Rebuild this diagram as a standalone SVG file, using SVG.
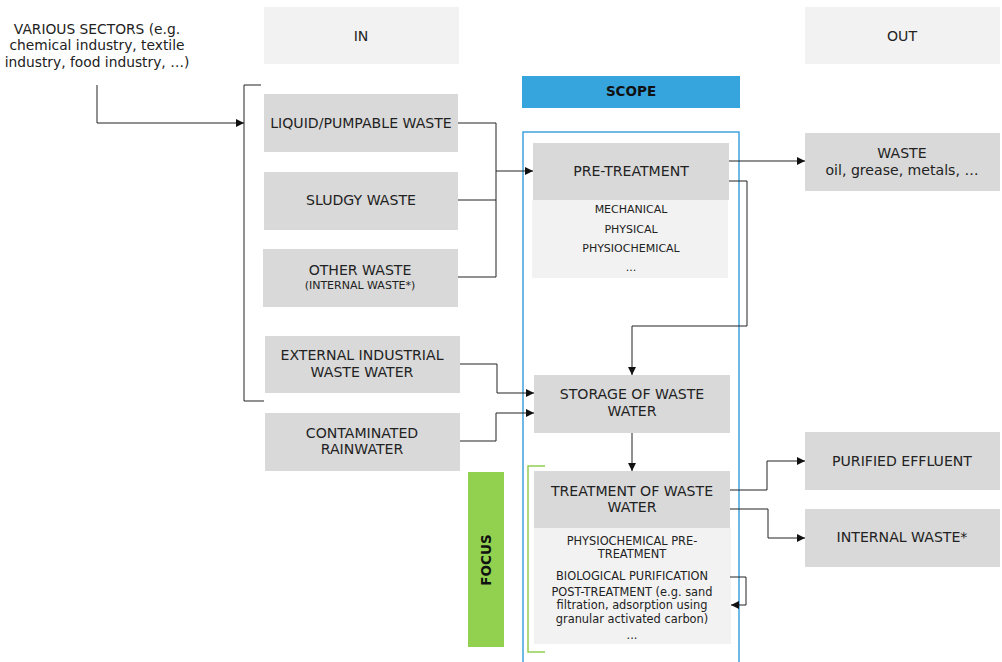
<svg xmlns="http://www.w3.org/2000/svg" width="1002" height="662" viewBox="0 0 1002 662">
<defs>
<style>
text{font-family:"DejaVu Sans","Liberation Sans",sans-serif;fill:#222;text-anchor:middle}
.t{font-size:14.1px}
.v{font-size:13.8px}
.s{font-size:11px}
.s2{font-size:11.4px}
.box{fill:#d9d9d9}
.lt{fill:#f2f2f2}
.c{fill:none;stroke:#222;stroke-width:1}
</style>
<marker id="ah" viewBox="0 0 10 10" refX="10" refY="5" markerWidth="8" markerHeight="8" markerUnits="userSpaceOnUse" orient="auto"><path d="M0,0L10,5L0,10z" fill="#111"/></marker>
</defs>
<rect width="1002" height="662" fill="#fff"/>

<g id="sectors"><text class="v" x="97" y="34">VARIOUS SECTORS (e.g.</text><text class="v" x="97" y="50">chemical industry, textile</text><text class="v" x="97" y="67">industry, food industry, …)</text></g>
<g id="in"><rect class="lt" x="264" y="7" width="195" height="57"/><text class="t" x="361" y="41">IN</text></g>
<g id="out"><rect class="lt" x="805" y="7" width="195" height="57"/><text class="t" x="902" y="41">OUT</text></g>
<g id="scope"><rect x="522" y="76" width="218" height="32" fill="#36a4dd"/><text x="631" y="96" style="font-size:13.5px;font-weight:bold;fill:#111">SCOPE</text></g>
<g id="scope-frame"><rect x="523" y="132" width="216" height="540" fill="none" stroke="#3fa3dd" stroke-width="1.5"/></g>
<g id="focus"><rect x="468" y="472" width="36" height="175" fill="#92d050"/><text transform="translate(491,560) rotate(-90)" style="font-size:13.5px;font-weight:bold;fill:#111">FOCUS</text></g>
<g id="focus-bracket"><path d="M545,466H528V652H545" fill="none" stroke="#92d050" stroke-width="1.5"/></g>
<g id="in-bracket"><path class="c" d="M261,85H244V401H264"/></g>

<g id="liquid"><rect class="box" x="264" y="94" width="194" height="58"/><text class="t" x="361" y="128">LIQUID/PUMPABLE WASTE</text></g>
<g id="sludgy"><rect class="box" x="264" y="172" width="194" height="58"/><text class="t" x="361" y="205">SLUDGY WASTE</text></g>
<g id="other"><rect class="box" x="263" y="249" width="195" height="58"/><text class="t" x="360" y="275">OTHER WASTE</text><text class="s" x="360" y="289">(INTERNAL WASTE*)</text></g>
<g id="external"><rect class="box" x="265" y="336" width="195" height="57"/><text class="t" x="362" y="360">EXTERNAL INDUSTRIAL</text><text class="t" x="362" y="377">WASTE WATER</text></g>
<g id="rain"><rect class="box" x="265" y="413" width="195" height="58"/><text class="t" x="362" y="438">CONTAMINATED</text><text class="t" x="362" y="454">RAINWATER</text></g>

<g id="pretreatment"><rect class="lt" x="532" y="200" width="196" height="78"/><rect class="box" x="533" y="143" width="196" height="57"/><text class="t" x="631" y="176">PRE-TREATMENT</text><text class="s" x="631" y="213">MECHANICAL</text><text class="s" x="631" y="233">PHYSICAL</text><text class="s" x="631" y="252">PHYSIOCHEMICAL</text><text class="s" x="631" y="271">...</text></g>
<g id="storage"><rect class="box" x="534" y="375" width="196" height="58"/><text class="t" x="632" y="399">STORAGE OF WASTE</text><text class="t" x="632" y="416">WATER</text></g>
<g id="treatment"><rect class="lt" x="534" y="528" width="197" height="116"/><rect class="box" x="534" y="471" width="196" height="57"/><text class="t" x="632" y="496">TREATMENT OF WASTE</text><text class="t" x="632" y="512">WATER</text>
<text class="s2" x="632" y="545">PHYSIOCHEMICAL PRE-</text><text class="s2" x="632" y="558">TREATMENT</text><text class="s2" x="632" y="580">BIOLOGICAL PURIFICATION</text><text class="s2" x="632" y="596">POST-TREATMENT (e.g. sand</text><text class="s2" x="632" y="609">filtration, adsorption using</text><text class="s2" x="632" y="623">granular activated carbon)</text><text class="s2" x="632" y="639">...</text></g>

<g id="waste"><rect class="box" x="805" y="133" width="195" height="58"/><text class="t" x="902" y="158">WASTE</text><text class="t" x="902" y="175">oil, grease, metals, …</text></g>
<g id="purified"><rect class="box" x="805" y="432" width="195" height="58"/><text class="t" x="902" y="466">PURIFIED EFFLUENT</text></g>
<g id="internal"><rect class="box" x="805" y="509" width="195" height="58"/><text class="t" x="902" y="542">INTERNAL WASTE*</text></g>

<g id="connectors">
<path class="c" d="M97,85V123H244" marker-end="url(#ah)"/>
<path class="c" d="M458,123H496V277H458M458,200H496"/>
<path class="c" d="M496,171H533" marker-end="url(#ah)"/>
<path class="c" d="M729,161H805" marker-end="url(#ah)"/>
<path class="c" d="M729,181H747V326H632V375" marker-end="url(#ah)"/>
<path class="c" d="M460,364H497V393H534" marker-end="url(#ah)"/>
<path class="c" d="M460,441H496V413H534" marker-end="url(#ah)"/>
<path class="c" d="M632,433V471" marker-end="url(#ah)"/>
<path class="c" d="M730,490H767V461H805" marker-end="url(#ah)"/>
<path class="c" d="M730,509H768V538H805" marker-end="url(#ah)"/>
<path class="c" d="M730,577H746V605H731" marker-end="url(#ah)"/>
</g>
</svg>
